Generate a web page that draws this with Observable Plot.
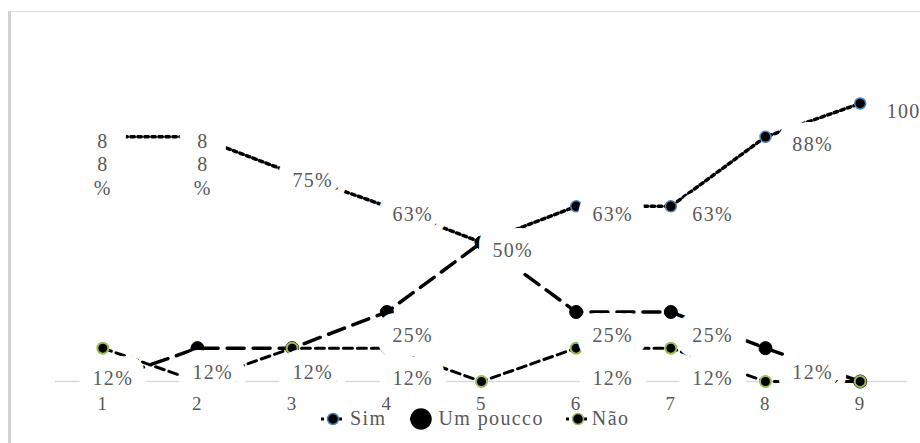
<!DOCTYPE html>
<html>
<head>
<meta charset="utf-8">
<script src="https://cdn.jsdelivr.net/npm/d3@7"></script>
<script src="https://cdn.jsdelivr.net/npm/@observablehq/plot@0.6"></script>
<style>
  html, body { margin: 0; padding: 0; background: #fff; }
  #wrap { position: relative; width: 920px; height: 443px; overflow: hidden; font-family: "Liberation Serif", "Times New Roman", serif; }
  #frame { position: absolute; left: 8px; top: 11px; width: 930px; height: 450px; border-top: 1px solid #dcdcdc; border-left: 3px solid #d2d2d2; box-sizing: border-box; }
  #chart { position: absolute; left: 0; top: 0; }
  #legend { position: absolute; left: 321px; top: 407px; display: flex; align-items: center; color: #595959; font-size: 20px; letter-spacing: 1.4px; }
  .item { display: flex; align-items: center; }
  .item svg { display: block; }
</style>
</head>
<body>
<div id="wrap">
  <div id="frame"></div>
  <div id="chart"></div>
  <div id="legend"></div>
</div>
<script>
// ---- data ----
const categories = [1, 2, 3, 4, 5, 6, 7, 8, 9];
const seriesNames = ["Sim", "Um poucco", "Não"];
const simValues = [88, 88, 75, 63, 50, 63, 63, 88, 100];
const umPouccoValues = [0, 12, 12, 25, 50, 25, 25, 12, 0];
const naoValues = [12, 0, 12, 12, 0, 12, 12, 0, 0];
const simLabels = ["8\n8\n%", "8\n8\n%", "75%", "63%", "50%", "63%", "63%", "88%", "100%"];
const umPouccoLabels = ["", "12%", "12%", "25%", "", "25%", "25%", "12%", ""];
const naoLabels = ["12%", "", "", "12%", "", "12%", "12%", "", ""];

// ---- build tidy rows ----
const valuesBySeries = [simValues, umPouccoValues, naoValues];
const labelsBySeries = [simLabels, umPouccoLabels, naoLabels];
const rows = seriesNames.flatMap((s, k) =>
  categories.map((c, i) => ({ series: s, x: c, y: valuesBySeries[k][i], label: labelsBySeries[k][i] }))
);
const simRows = rows.filter(d => d.series === "Sim");
const upRows = rows.filter(d => d.series === "Um poucco");
const naoRows = rows.filter(d => d.series === "Não");
const wrappedRows = simRows.filter(d => d.label.includes("\n"));

const BLUE = "#4F81BD", GREEN = "#9BBB59", TEXT = "#595959";
const FONT = "Liberation Serif, Times New Roman, serif";
// data labels in the original sit on a slightly wider spacing than the points
const spread = d => d.x + 0.056 * (d.x - 1);
const textBase = { fontSize: 20, fontFamily: FONT, textAnchor: "middle" };
const boxStyle = { ...textBase, fill: "white", stroke: "white", strokeWidth: 30, strokeLinejoin: "round" };
const inkStyle = { ...textBase, fill: TEXT };

const labelSets = [
  { data: wrappedRows, opts: { lineAnchor: "middle", lineHeight: 1.17, dy: 27 } },
  { data: simRows.filter(d => d.label && !d.label.includes("\n")), opts: { dx: 10, dy: 8 } },
  { data: upRows.filter(d => d.label), opts: { dx: 10, dy: 24 } },
  { data: naoRows.filter(d => d.label), opts: { dx: 10, dy: 30 } }
];
// white "boxes" first (hide lines behind labels, like the original's label boxes), then the label ink
const labelBoxes = [
  Plot.dot(wrappedRows, { x: spread, y: "y", symbol: "square", r: 26, fill: "white", stroke: "none", dy: 17 }),
  ...labelSets.map(s => Plot.text(s.data, { x: spread, y: "y", text: "label", ...boxStyle, ...s.opts }))
];
const labelInk = labelSets.map(s => Plot.text(s.data, { x: spread, y: "y", text: "label", ...inkStyle, ...s.opts }));

const hasAxisMark = typeof Plot.axisX === "function";
const axisOpts = { ticks: categories, tickFormat: d => String(d), tickSize: 0, tickPadding: 15, label: null };
const axisMarks = hasAxisMark ? [Plot.axisX({ ...axisOpts, fill: TEXT })] : [];

const chart = Plot.plot({
  width: 920,
  height: 443,
  marginLeft: 55,
  marginRight: 13,
  marginTop: 103,
  marginBottom: 62,
  style: { fontFamily: FONT, fontSize: "19px", color: TEXT, background: "transparent", overflow: "visible", letterSpacing: "1.3px" },
  x: hasAxisMark ? { type: "linear", domain: [0.5, 9.5] } : { type: "linear", domain: [0.5, 9.5], ...axisOpts, line: false },
  y: { domain: [0, 100], axis: null },
  marks: [
    Plot.ruleY([0], { stroke: "#d9d9d9", strokeWidth: 1.5 }),
    Plot.line(simRows, { x: "x", y: "y", stroke: "black", strokeWidth: 3.5, strokeDasharray: "3.5,3.5" }),
    Plot.line(upRows, { x: "x", y: "y", stroke: "black", strokeWidth: 3.5, strokeDasharray: "17,9" }),
    Plot.line(naoRows, { x: "x", y: "y", stroke: "black", strokeWidth: 3, strokeDasharray: "9,5" }),
    Plot.dot(simRows, { x: "x", y: "y", r: 5.5, fill: "black", stroke: BLUE, strokeWidth: 1.5 }),
    Plot.dot(upRows, { x: "x", y: "y", r: 6.5, fill: "black", stroke: "black", strokeWidth: 1 }),
    Plot.dot(naoRows, { x: "x", y: "y", r: 5.5, fill: "black", stroke: GREEN, strokeWidth: 2 }),
    ...labelBoxes,
    ...labelInk,
    ...axisMarks
  ]
});
document.getElementById("chart").appendChild(chart);

// ---- legend (HTML) ----
const legendSpec = [
  { name: seriesNames[0], stroke: BLUE, r: 5.5, dash: "3,3", w: 24, textGap: 5, gapAfter: 24 },
  { name: seriesNames[1], stroke: "black", r: 10, dash: "16,9", w: 22, textGap: 6, gapAfter: 22 },
  { name: seriesNames[2], stroke: GREEN, r: 5.5, dash: "3,3", w: 24, textGap: 2, gapAfter: 0 }
];
const legend = d3.select("#legend");
legendSpec.forEach(s => {
  const item = legend.append("div").attr("class", "item").style("margin-right", s.gapAfter + "px");
  const h = 22;
  const svg = item.append("svg").attr("width", s.w).attr("height", h);
  svg.append("line").attr("x1", 0).attr("x2", s.w).attr("y1", h / 2).attr("y2", h / 2)
    .attr("stroke", "black").attr("stroke-width", 3).attr("stroke-dasharray", s.dash);
  svg.append("circle").attr("cx", s.w / 2).attr("cy", h / 2).attr("r", s.r)
    .attr("fill", "black").attr("stroke", s.stroke).attr("stroke-width", 1.5);
  item.append("span").text(s.name).style("margin-left", s.textGap + "px");
});
</script>
</body>
</html>
